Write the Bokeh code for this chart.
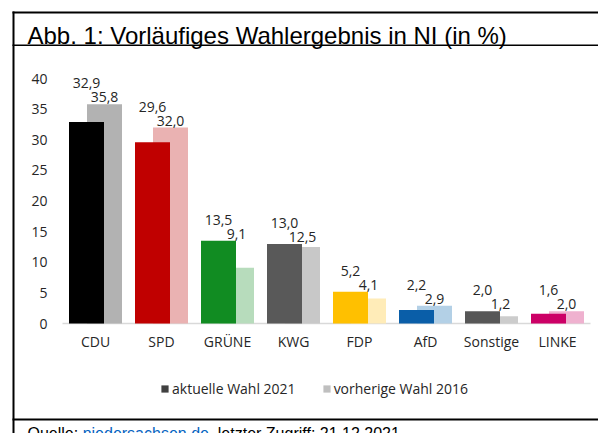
from bokeh.plotting import figure
from bokeh.models import (ColumnDataSource, Range1d, Label, BoxAnnotation,
                          Legend, LegendItem)
from bokeh.core.properties import value
from bokeh.embed import file_html
from bokeh.resources import INLINE

# ---------------- data ----------------
parteien = ["CDU", "SPD", "GRÜNE", "KWG", "FDP", "AfD", "Sonstige", "LINKE"]
wahl_2021 = [32.9, 29.6, 13.5, 13.0, 5.2, 2.2, 2.0, 1.6]
wahl_2016 = [35.8, 32.0, 9.1, 12.5, 4.1, 2.9, 1.2, 2.0]
farben_2021 = ["#000000", "#c00000", "#118c22", "#595959", "#ffc000", "#0a5ea8", "#575757", "#cc0066"]
farben_2016 = ["#b2b2b2", "#eab2b2", "#b7dcbc", "#c8c8c8", "#ffecb8", "#b3d0e6", "#cccccc", "#efb1cf"]
y_ticks = [0, 5, 10, 15, 20, 25, 30, 35, 40]
serien = ["aktuelle Wahl 2021", "vorherige Wahl 2016"]
legende_farben = ["#404040", "#bfbfbf"]
titel = "Abb. 1: Vorläufiges Wahlergebnis in NI (in %)"
quelle_teile = ["Quelle: ", "niedersachsen.de", ", letzter Zugriff: 21.12.2021"]

# ---------------- layout (canvas pixels) ----------------
W, H = 598, 433
PLOT_LEFT, PLOT_RIGHT, PLOT_BOTTOM = 62, 590, 323
PX_PER_UNIT = 6.125
BAR_W_PX, BAR_SHIFT_PX = 35, 9
TXT = "#262626"

n = len(parteien)
cat_px = (PLOT_RIGHT - PLOT_LEFT) / n
bar_w = BAR_W_PX / cat_px
shift = BAR_SHIFT_PX / cat_px


def xd(cx):
    return (cx - PLOT_LEFT) / cat_px


def yd(cy):
    return (PLOT_BOTTOM - cy) / PX_PER_UNIT


def fmt(v):
    return f"{v:.1f}".replace(".", ",")


xc = [i + 0.5 for i in range(n)]
source = ColumnDataSource(dict(
    partei=parteien, xc=xc,
    xa=[x - shift for x in xc], xb=[x + shift for x in xc],
    a=wahl_2021, b=wahl_2016, fa=farben_2021, fb=farben_2016,
    la=[fmt(v) for v in wahl_2021], lb=[fmt(v) for v in wahl_2016],
    top=[max(a, b) for a, b in zip(wahl_2021, wahl_2016)],
))
tick_src = ColumnDataSource(dict(y=y_ticks, t=[str(t) for t in y_ticks]))

p = figure(width=W, height=H, output_backend="svg", toolbar_location=None,
           x_range=Range1d(xd(0), xd(W)), y_range=Range1d(yd(H), yd(0)),
           min_border=0, outline_line_color=None,
           background_fill_color="white", border_fill_color="white")
p.axis.visible = False
p.grid.visible = False

# value axis labels
p.text(x=0, y="y", text="t", source=tick_src, x_offset=-15,
       text_align="right", text_baseline="middle",
       text_font=value("Open Sans"), text_font_size="14px", text_color=TXT)

# category axis line + labels
p.segment(x0=0, x1=n, y0=0, y1=0, line_color="#d9d9d9", line_width=1.5)
p.text(x="xc", y=0, text="partei", source=source, y_offset=18,
       text_align="center", text_baseline="middle",
       text_font=value("Open Sans"), text_font_size="14px", text_color=TXT)

# bars (previous behind, current in front)
p.vbar(x="xb", top="b", width=bar_w, fill_color="fb", line_color=None, source=source)
p.vbar(x="xa", top="a", width=bar_w, fill_color="fa", line_color=None, source=source)

# data labels
p.text(x="xa", y="top", text="la", source=source, y_offset=-21,
       text_align="center", text_baseline="middle",
       text_font=value("Open Sans"), text_font_size="14px", text_color=TXT)
p.text(x="xb", y="top", text="lb", source=source, y_offset=-7,
       text_align="center", text_baseline="middle",
       text_font=value("Open Sans"), text_font_size="14px", text_color=TXT)

# legend (swatch-only renderers without visible data)
nan = float("nan")
leg_items = []
for name, col in zip(serien, legende_farben):
    r = p.vbar(x=[nan], top=[nan], width=0.5, fill_color=col, line_color=None)
    leg_items.append(LegendItem(label=name, renderers=[r]))
LEG_H = 20
legend = Legend(items=leg_items, orientation="horizontal",
                location=(160, H - (388 + LEG_H / 2)),
                glyph_width=9, glyph_height=9, label_standoff=3, spacing=26,
                padding=0, margin=0, label_height=LEG_H,
                border_line_color=None, background_fill_alpha=0,
                label_text_font="Open Sans", label_text_font_size="14px",
                label_text_color=TXT)
p.add_layout(legend)

# frame lines
for l, r_, t, b in [(12, W, 11, 13),        # top
                    (12, 14, 11, H),        # left
                    (12, W, 44, 45.5),      # under title
                    (12, W, 418, 420)]:     # bottom
    p.add_layout(BoxAnnotation(left=xd(l), right=xd(r_), top=yd(t), bottom=yd(b),
                               fill_color="black", fill_alpha=1, line_alpha=0,
                               level="overlay"))

# title
p.add_layout(Label(x=xd(27), y=yd(35), text=titel, text_font="Liberation Sans",
                   text_font_size="24px", text_baseline="alphabetic",
                   text_align="left", text_color="black"))

# source line (partly cut by the bottom edge, as in the original)
q_font = 16
q_widths = [3.446 * q_font, 7.893 * q_font]
qx = 27
for i, part in enumerate(quelle_teile):
    p.add_layout(Label(x=xd(qx), y=yd(433), text=part, text_font="Liberation Sans",
                       text_font_size=f"{q_font}px", text_baseline="alphabetic",
                       text_align="left",
                       text_color="#0563c1" if i == 1 else "black"))
    if i < len(q_widths):
        qx += q_widths[i]

open("out.html", "w").write(file_html(p, INLINE))
